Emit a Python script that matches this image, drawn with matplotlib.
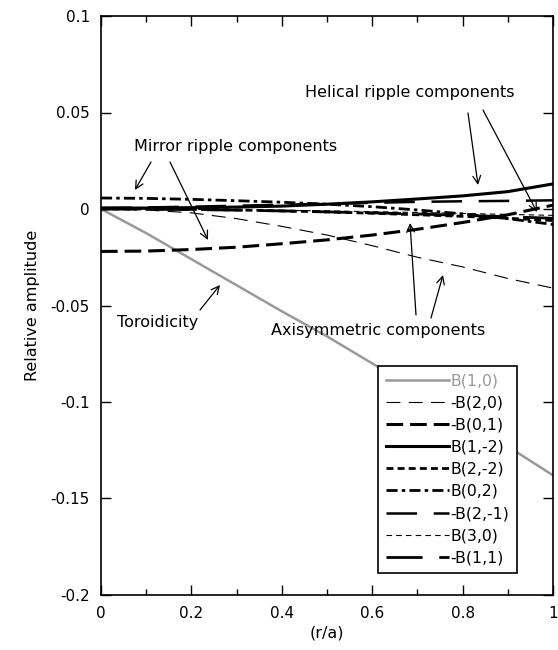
import matplotlib
matplotlib.use("Agg")
import matplotlib.pyplot as plt
from matplotlib.ticker import MultipleLocator

plt.rcParams['font.family'] = ['DejaVu Sans']
plt.rcParams['lines.scale_dashes'] = False

r = [0.0, 0.1, 0.2, 0.3, 0.4, 0.5, 0.6, 0.7, 0.8, 0.9, 1.0]
B10 = [0.0, -0.0125, -0.026, -0.0395, -0.053, -0.066, -0.080, -0.094, -0.108, -0.123, -0.138]
B20 = [0.0, -0.0005, -0.002, -0.005, -0.009, -0.0135, -0.019, -0.025, -0.030, -0.036, -0.041]
B01 = [-0.022, -0.0218, -0.021, -0.0198, -0.018, -0.016, -0.0135, -0.0105, -0.007, -0.003, 0.002]
B1m2 = [0.0005, 0.0005, 0.0007, 0.001, 0.0015, 0.0025, 0.0037, 0.0052, 0.0068, 0.009, 0.013]
B2m2 = [0.0, 0.0, -0.0002, -0.0005, -0.001, -0.0015, -0.0022, -0.003, -0.0038, -0.0048, -0.006]
B02 = [0.0057, 0.0055, 0.005, 0.0043, 0.0035, 0.0025, 0.0012, -0.0005, -0.0025, -0.005, -0.008]
B2m1 = [0.0005, 0.0008, 0.0012, 0.0017, 0.0022, 0.0027, 0.0032, 0.0037, 0.004, 0.0042, 0.0045]
B30 = [0.0, 0.0, -0.0002, -0.0004, -0.0007, -0.001, -0.0014, -0.0018, -0.0023, -0.0028, -0.0033]
B11 = [0.0, -0.0001, -0.0003, -0.0006, -0.001, -0.0015, -0.002, -0.0026, -0.0033, -0.004, -0.0048]

labels = ["B(1,0)", "-B(2,0)", "-B(0,1)", "B(1,-2)", "B(2,-2)", "B(0,2)", "-B(2,-1)", "B(3,0)", "-B(1,1)"]
xticks = [0, 0.2, 0.4, 0.6, 0.8, 1]
xticklabels = ["0", "0.2", "0.4", "0.6", "0.8", "1"]
yticks = [-0.2, -0.15, -0.1, -0.05, 0, 0.05, 0.1]
yticklabels = ["-0.2", "-0.15", "-0.1", "-0.05", "0", "0.05", "0.1"]

fig = plt.figure(figsize=(5.58, 6.5), dpi=100)
ax = fig.add_axes([101/558, 1-595/650, 452/558, 579/650])

series = [B10, B20, B01, B1m2, B2m2, B02, B2m1, B30, B11]
styles = [
    dict(color='#999999', lw=1.8, ls='-'),
    dict(color='black', lw=0.8, dashes=(10, 6)),
    dict(color='black', lw=2.2, dashes=(12, 5)),
    dict(color='black', lw=2.2, ls='-'),
    dict(color='black', lw=2.0, dashes=(5, 3)),
    dict(color='black', lw=2.0, dashes=(8, 3, 2.5, 3)),
    dict(color='black', lw=1.8, dashes=(22, 12)),
    dict(color='black', lw=0.8, dashes=(4, 3)),
    dict(color='black', lw=2.0, dashes=(26, 12)),
]
handles = []
for s, st, lab in zip(series, styles, labels):
    h, = ax.plot(r, s, label=lab, **st)
    handles.append(h)

ax.set_xlim(0, 1)
ax.set_ylim(-0.2, 0.1)
ax.set_xticks(xticks)
ax.set_xticklabels(xticklabels)
ax.set_yticks(yticks)
ax.set_yticklabels(yticklabels)
ax.xaxis.set_minor_locator(MultipleLocator(0.1))
ax.tick_params(which='both', direction='in', top=True, right=True, labelsize=11)
ax.tick_params(which='major', length=7, width=1)
ax.tick_params(which='minor', length=4, width=1)
ax.tick_params(axis='x', pad=8)
ax.tick_params(axis='y', pad=8)
for sp in ax.spines.values():
    sp.set_linewidth(1.2)

ax.set_xlabel("(r/a)", fontsize=11.5, labelpad=3)
ax.set_ylabel("Relative amplitude", fontsize=11.5, labelpad=8)

leg = ax.legend(handles=handles, loc='lower left', bbox_to_anchor=(0.613, 0.038),
                fontsize=11.3, frameon=True, fancybox=False, edgecolor='black',
                framealpha=1, handlelength=4.0, handletextpad=0.1, labelspacing=0.45,
                borderaxespad=0, borderpad=0.5)
leg.get_frame().set_linewidth(1.2)
leg.get_texts()[0].set_color('#999999')

def px(x, y):
    return ((x - 101) / 452.0, (209 - y) / 1930.0)

arrow = dict(arrowstyle='->', color='black', lw=0.9, shrinkA=0, shrinkB=0, mutation_scale=14)
fs = 11.5
ax.text(*px(410, 93), "Helical ripple components", ha='center', va='center', fontsize=fs)
ax.annotate("", xy=px(478, 185), xytext=px(468, 113), arrowprops=arrow)
ax.annotate("", xy=px(537, 212), xytext=px(483, 110), arrowprops=arrow)

ax.text(*px(236, 147), "Mirror ripple components", ha='center', va='center', fontsize=fs)
ax.annotate("", xy=px(135, 190), xytext=px(151, 162), arrowprops=arrow)
ax.annotate("", xy=px(208, 240), xytext=px(170, 162), arrowprops=arrow)

ax.text(*px(158, 322), "Toroidicity", ha='center', va='center', fontsize=fs)
ax.annotate("", xy=px(220, 285), xytext=px(200, 310), arrowprops=arrow)

ax.text(*px(378, 330), "Axisymmetric components", ha='center', va='center', fontsize=fs)
ax.annotate("", xy=px(410, 223), xytext=px(416, 315), arrowprops=arrow)
ax.annotate("", xy=px(443, 275), xytext=px(431, 318), arrowprops=arrow)

fig.savefig("out.png", dpi=100)
